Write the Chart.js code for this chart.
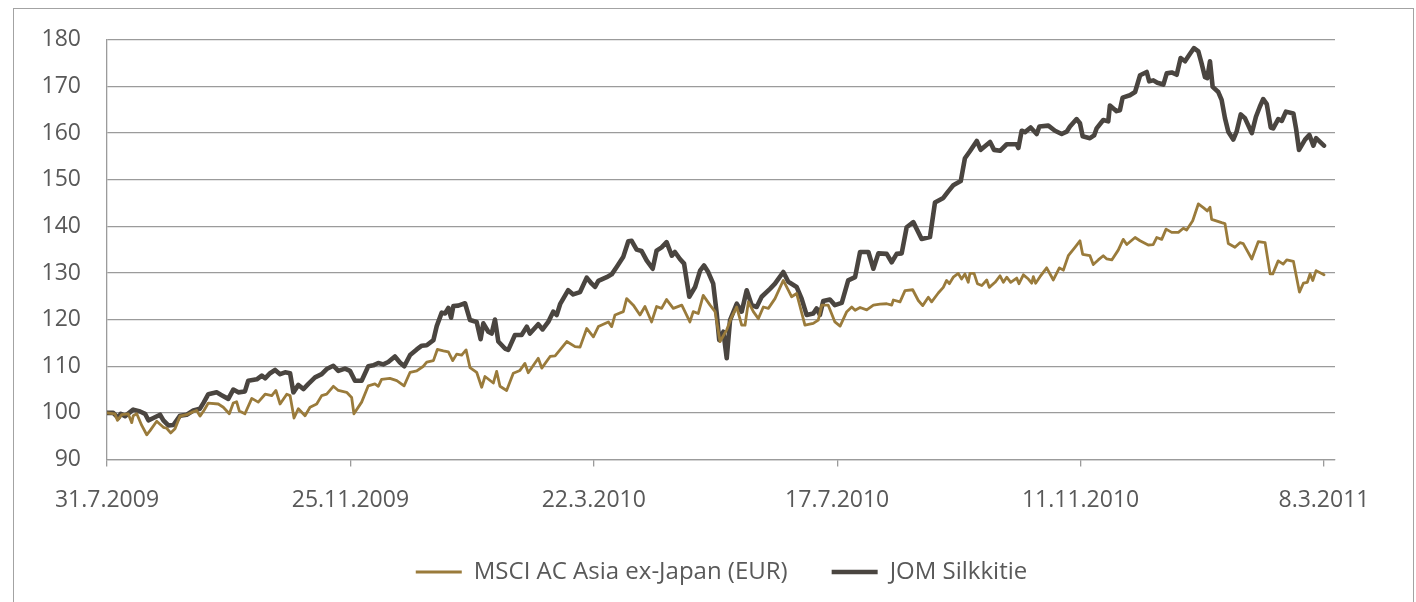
<!DOCTYPE html>
<html>
<head>
<meta charset="utf-8">
<script src="https://cdn.jsdelivr.net/npm/chart.js@4.4.1/dist/chart.umd.min.js"></script>
<style>
    html, body { margin: 0; padding: 0; background: #fff; overflow: hidden; }
    #wrap { position: relative; width: 1416px; height: 602px; }
    #frame {
        position: absolute; left: 13px; top: 8px; width: 1399px; height: 700px;
        border: 1.5px solid #a3a3a3; pointer-events: none;
    }
    canvas { position: absolute; left: 0; top: 0; }
</style>
</head>
<body>
<div id="wrap">
    <canvas id="perfChart" width="1416" height="602"></canvas>
    <div id="frame"></div>
</div>
<script>
// x = days since 31.7.2009
const tickDays = [0, 117, 234, 351, 468, 585];
const tickLabels = ["31.7.2009", "25.11.2009", "22.3.2010", "17.7.2010", "11.11.2010", "8.3.2011"];

const jomDays = [
    0, 3.0, 5.4, 6.6, 8.7, 12.6, 15.9, 18.3, 19.9, 22.3,
    25.5, 27.1, 29.5, 31.9, 35.1, 38.3, 41.5, 44.7, 46.6, 48.7,
    52.7, 55.1, 58.3, 60.7, 63.1, 66.3, 67.9, 72.0, 74.4, 76.0,
    78.4, 80.8, 83.2, 85.6, 88.0, 89.6, 92.0, 94.4, 96.8, 100.0,
    103.2, 105.6, 108.8, 111.2, 114.4, 116.8, 119.2, 122.4, 125.6, 128.0,
    130.4, 132.8, 135.2, 138.4, 140.8, 142.9, 145.7, 148.9, 151.3, 153.7,
    156.9, 158.5, 160.9, 162.5, 164.1, 165.4, 166.5, 168.9, 172.1, 174.5,
    177.7, 179.6, 180.9, 183.3, 184.9, 186.5, 188.1, 191.3, 192.9, 196.1,
    199.3, 201.8, 203.3, 207.3, 209.4, 212.1, 214.5, 216.2, 217.8, 221.7,
    224.1, 227.4, 230.6, 233.0, 234.6, 236.2, 240.2, 242.6, 245.0, 248.2,
    250.6, 252.2, 254.6, 257.0, 259.4, 262.3, 264.2, 266.6, 269.0, 271.5,
    273.0, 275.4, 277.4, 279.9, 282.7, 285.1, 287.0, 289.0, 291.4, 293.1,
    294.3, 296.3, 297.9, 299.5, 302.7, 305.1, 307.5, 309.9, 312.3, 314.7,
    318.7, 321.1, 325.1, 327.5, 331.5, 333.9, 336.3, 339.5, 341.1, 342.7,
    344.3, 347.5, 349.9, 353.2, 356.3, 359.6, 362.0, 366.0, 368.4, 370.8,
    374.8, 377.2, 379.6, 382.0, 384.4, 387.6, 391.6, 395.6, 398.0, 402.0,
    404.4, 406.8, 410.4, 412.4, 414.8, 418.1, 420.0, 424.5, 426.4, 429.3,
    432.5, 437.3, 438.1, 439.7, 441.3, 444.0, 446.9, 448.2, 452.5, 455.7,
    458.9, 461.3, 462.9, 466.1, 467.7, 469.0, 472.5, 474.5, 475.7, 478.9,
    481.3, 482.1, 485.3, 486.9, 488.2, 491.7, 494.2, 496.6, 499.8, 501.0,
    503.0, 504.9, 507.8, 509.4, 511.8, 514.2, 516.1, 518.2, 520.6, 522.5,
    524.6, 526.2, 527.8, 528.9, 530.2, 531.5, 534.2, 535.8, 537.4, 539.0,
    541.4, 543.0, 545.0, 547.0, 550.3, 552.3, 554.2, 555.8, 557.5, 559.4,
    560.6, 563.0, 564.7, 566.7, 570.3, 571.6, 573.0, 575.9, 578.0, 579.9,
    581.2, 585
];
const jomValues = [
    100, 100, 98.9, 99.8, 99.3, 100.7, 100.3, 99.8, 98.4, 98.9,
    99.6, 98.4, 97.3, 97.4, 99.4, 99.6, 100.5, 100.9, 102.3, 104,
    104.4, 103.8, 103, 105, 104.4, 104.6, 106.9, 107.2, 108, 107.4,
    108.5, 109.2, 108.3, 108.7, 108.5, 104.4, 106, 105.1, 106.2, 107.6,
    108.3, 109.4, 110.1, 109, 109.5, 109, 106.9, 106.9, 110, 110.2,
    110.7, 110.4, 110.9, 112.1, 110.8, 110, 112.4, 113.6, 114.4, 114.5,
    115.6, 118.6, 121.5, 121.3, 122.5, 120.4, 122.9, 123, 123.5, 119.9,
    119.5, 115.8, 119.2, 117.4, 117, 120, 115.3, 113.8, 113.5, 116.7,
    116.7, 118.5, 117, 119, 117.9, 119.5, 121.7, 121, 123.3, 126.3,
    125.4, 125.9, 129, 127.7, 127, 128.3, 129.1, 129.7, 131.3, 133.5,
    136.8, 136.9, 135, 134.7, 132.7, 130.9, 134.8, 135.5, 136.6, 133.7,
    134.5, 133, 132, 124.9, 127, 130.5, 131.6, 130.2, 127.7, 121.3,
    115.6, 117.4, 111.7, 119.9, 123.4, 121.7, 126.3, 123.1, 122.7, 124.9,
    126.6, 127.7, 130.2, 128.1, 127, 124.5, 121, 121.3, 122.4, 121,
    124, 124.3, 123.1, 123.6, 128.4, 129.1, 134.5, 134.5, 130.9, 134.2,
    134.1, 132.3, 134.1, 134.2, 139.8, 140.9, 137.3, 137.7, 145.1, 146.1,
    147.5, 148.8, 149.7, 154.6, 156.1, 158.3, 156.4, 158.1, 156.4, 156.2,
    157.6, 157.6, 156.8, 160.5, 160.2, 161.2, 159.8, 161.4, 161.6, 160.5,
    159.8, 160.3, 161.4, 163, 162.1, 159.3, 158.9, 159.5, 161, 162.8,
    162.5, 165.9, 164.7, 164.9, 167.6, 168.1, 168.8, 172.4, 173.1, 171.1,
    171.3, 170.8, 170.4, 172.8, 173, 172.5, 176.1, 175.4, 177, 178.2,
    177.5, 174.9, 172, 171.8, 175.4, 169.9, 168.8, 167.1, 163.2, 160.3,
    158.6, 160.3, 164, 163.2, 160, 163.5, 165.7, 167.3, 166.2, 161.2,
    161, 163, 162.6, 164.6, 164.2, 160.9, 156.4, 158.6, 159.6, 157.3,
    158.9, 157.3
];

const msciDays = [
    0, 3.8, 5.0, 7.1, 10.2, 11.9, 12.6, 14.3, 16.7, 19.1,
    20.7, 23.9, 27.1, 28.7, 30.6, 32.7, 35.1, 38.3, 40.7, 43.1,
    44.7, 46.6, 48.7, 53.5, 55.9, 58.8, 60.7, 62.3, 63.6, 66.3,
    69.6, 72.7, 76.0, 79.2, 81.2, 83.2, 86.4, 88.0, 89.9, 92.0,
    95.2, 97.6, 100.8, 103.2, 105.6, 108.8, 111.2, 115.2, 117.6, 118.7,
    122.4, 125.6, 128.8, 130.4, 132.0, 136.0, 139.3, 142.8, 145.7, 148.9,
    152.1, 153.7, 156.9, 158.8, 161.7, 164.1, 166.2, 168.1, 170.5, 172.6,
    174.5, 177.7, 180.1, 181.7, 185.7, 187.3, 188.9, 192.1, 195.3, 198.5,
    200.9, 202.5, 207.3, 209.0, 213.0, 215.4, 221.0, 225.0, 227.4, 230.6,
    233.8, 236.2, 241.0, 242.6, 244.2, 248.2, 249.8, 253.0, 256.2, 258.6,
    261.8, 264.2, 266.6, 269.0, 272.2, 276.3, 280.2, 281.8, 284.2, 286.6,
    289.9, 292.3, 294.7, 297.9, 300.3, 302.7, 305.1, 306.7, 308.3, 310.7,
    313.1, 315.5, 317.9, 321.1, 325.1, 327.5, 329.1, 331.5, 335.5, 339.5,
    341.9, 343.6, 346.7, 349.9, 352.4, 355.6, 358.0, 359.6, 362.0, 365.2,
    368.4, 371.6, 374.8, 377.2, 378.0, 381.2, 383.6, 387.3, 390.0, 392.1,
    394.8, 396.4, 399.6, 402.0, 403.6, 404.9, 406.8, 409.2, 410.8, 412.4,
    414.0, 414.8, 416.8, 418.4, 420.5, 422.9, 424.1, 426.9, 429.3, 430.9,
    432.5, 434.4, 437.3, 438.4, 440.5, 442.9, 444.5, 445.3, 446.4, 448.5,
    451.7, 454.9, 457.8, 459.7, 462.1, 465.3, 467.7, 469.0, 472.5, 474.1,
    476.5, 478.9, 480.6, 483.0, 486.1, 488.5, 490.2, 494.2, 496.6, 500.5,
    502.9, 504.6, 507.0, 509.1, 511.8, 515.0, 517.4, 519.0, 521.9, 524.6,
    527.0, 528.9, 530.2, 531.0, 535.8, 537.4, 539.0, 542.2, 544.6, 546.2,
    550.3, 553.4, 556.7, 559.1, 560.4, 563.0, 565.4, 567.1, 570.3, 573.2,
    575.1, 577.0, 578.3, 579.6, 581.2, 585
];
const msciValues = [
    100, 99.8, 98.4, 99.6, 99.8, 97.9, 99.4, 99.8, 97.3, 95.3,
    96.2, 98.2, 96.9, 96.7, 95.7, 96.6, 99.3, 99.6, 100.1, 100.5,
    99.3, 100.5, 102.1, 101.9, 101.2, 99.8, 102.1, 102.4, 100.4, 99.8,
    103.1, 102.3, 104, 103.7, 104.8, 101.9, 104, 103.7, 98.9, 100.9,
    99.4, 101.2, 101.9, 103.7, 104, 105.7, 104.8, 104.4, 103.3, 99.8,
    102.3, 105.8, 106.2, 105.7, 107.2, 107.4, 106.9, 105.8, 108.7, 109,
    110, 110.9, 111.2, 113.6, 113.3, 113.1, 111.2, 112.6, 112.4, 113.5,
    109.7, 108.7, 105.5, 107.8, 106.4, 108.9, 105.7, 104.8, 108.5, 109.1,
    110.6, 108.6, 111.7, 109.6, 112.1, 112.2, 115.3, 114.2, 114.1, 118.1,
    116.3, 118.5, 119.5, 118.5, 121, 121.7, 124.5, 123.1, 121, 122.8,
    119.5, 122.8, 122.4, 124.3, 122.4, 123.1, 119.5, 121.7, 121.3, 125.2,
    123.1, 121.7, 115.3, 117.8, 120.6, 122.7, 118.8, 118.8, 123.8, 121.7,
    120.2, 122.7, 122.4, 124.5, 128.4, 126.3, 124.9, 125.6, 118.8, 119.2,
    119.9, 123.1, 123.1, 119.5, 118.6, 121.7, 122.7, 122, 122.6, 122.1,
    123.1, 123.3, 123.4, 123.1, 124.2, 123.8, 126.2, 126.4, 124.1, 123,
    124.8, 123.8, 125.7, 126.9, 128.4, 127.7, 129.1, 129.9, 128.7, 129.8,
    128, 129.9, 129.9, 127.7, 127.3, 128.5, 126.9, 128, 129.4, 128,
    129.1, 128, 128.9, 127.7, 129.6, 128.7, 127.8, 129.2, 127.8, 129.2,
    131.1, 128.5, 131.1, 130.6, 133.7, 135.5, 136.9, 134, 133.7, 131.8,
    132.8, 133.7, 133, 132.8, 134.9, 137.2, 136.1, 137.6, 136.9, 136,
    136.1, 137.6, 137.2, 139.4, 138.7, 138.7, 139.6, 139.2, 141.2, 144.8,
    144, 143.3, 144.1, 141.5, 140.8, 140.6, 136.3, 135.5, 136.5, 136.3,
    133, 136.7, 136.5, 129.8, 129.8, 132.6, 131.9, 132.8, 132.5, 125.9,
    127.8, 128, 129.8, 128.4, 130.5, 129.6
];

const toPoints = (days, values) => days.map((d, i) => ({ x: d, y: values[i] }));

const gridGrey = "#9b9b9b";
const textGrey = "#595959";
const font = { family: "'Open Sans', 'Noto Sans', sans-serif", size: 23 };

// nudge the legend sideways, like in the original
const legendShift = {
    id: "legendShift",
    afterLayout(chart) {
        if (!chart.legend) return;
        chart.legend.left += 54;
        chart.legend.right += 54;
    }
};

new Chart(document.getElementById("perfChart"), {
    type: "line",
    data: {
        datasets: [{
            label: "MSCI AC Asia ex-Japan (EUR)",
            data: toPoints(msciDays, msciValues),
            borderColor: "#9a7b3b",
            backgroundColor: "#9a7b3b",
            borderWidth: 2.8,
            pointRadius: 0,
            tension: 0,
            borderJoinStyle: "round",
            borderCapStyle: "round"
        }, {
            label: "JOM Silkkitie",
            data: toPoints(jomDays, jomValues),
            borderColor: "#4a4540",
            backgroundColor: "#4a4540",
            borderWidth: 4.6,
            pointRadius: 0,
            tension: 0,
            borderJoinStyle: "round",
            borderCapStyle: "round"
        }]
    },
    plugins: [legendShift],
    options: {
        responsive: false,
        animation: false,
        devicePixelRatio: 1,
        layout: { padding: { top: 38, right: 81, bottom: 8, left: 0 } },
        plugins: {
            tooltip: { enabled: false },
            legend: {
                position: "bottom",
                labels: {
                    usePointStyle: true,
                    pointStyle: "line",
                    pointStyleWidth: 46,
                    padding: 44,
                    color: textGrey,
                    font: { family: font.family, size: 24 }
                }
            }
        },
        scales: {
            x: {
                type: "linear",
                min: 0,
                max: 590.3,
                afterBuildTicks: s => { s.ticks = tickDays.map(v => ({ value: v })); },
                afterFit: s => { s.height = 56.5; },
                ticks: {
                    autoSkip: false,
                    maxRotation: 0,
                    padding: 20,
                    color: textGrey,
                    font: font,
                    callback: v => tickLabels[tickDays.indexOf(v)]
                },
                grid: {
                    drawOnChartArea: false,
                    drawTicks: true,
                    tickLength: 7,
                    color: gridGrey,
                    lineWidth: 1.3
                },
                border: { display: true, color: gridGrey, width: 1.3 }
            },
            y: {
                min: 90,
                max: 180,
                afterFit: s => { s.width = 107; },
                ticks: {
                    stepSize: 10,
                    padding: 26,
                    color: textGrey,
                    font: font
                },
                grid: {
                    drawTicks: false,
                    color: gridGrey,
                    lineWidth: 1.3
                },
                border: { display: true, color: gridGrey, width: 1.3 }
            }
        }
    }
});
</script>
</body>
</html>
